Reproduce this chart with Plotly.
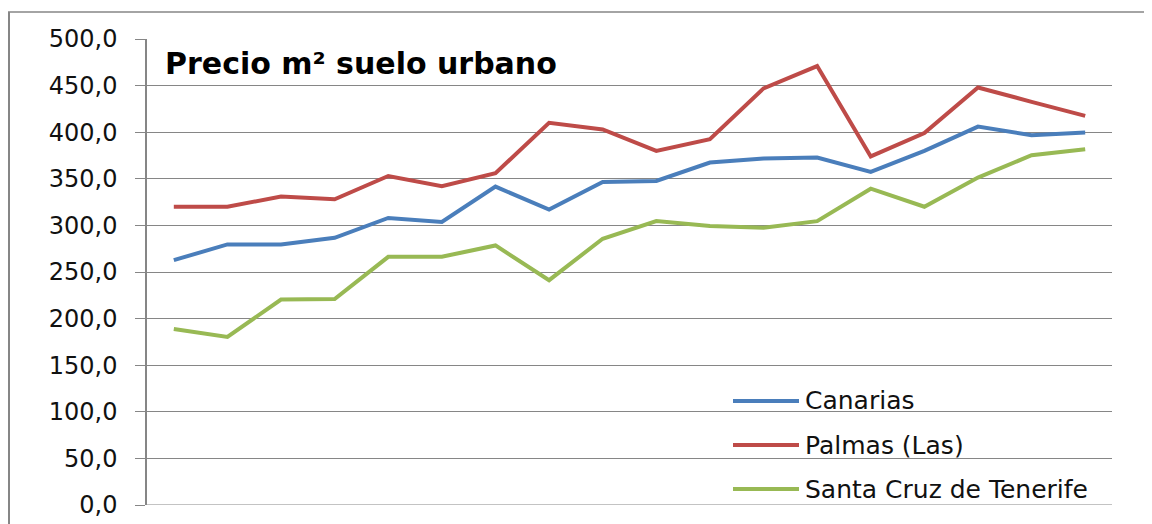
import plotly.graph_objects as go

categories = [str(i) for i in range(1, 19)]
canarias = [262.7, 279.6, 279.6, 286.7, 308.0, 303.6, 341.6, 317.0, 346.6, 347.7,
            367.4, 371.7, 372.8, 357.4, 380.0, 406.0, 396.8, 399.7]
palmas = [320.0, 320.0, 331.0, 328.0, 353.0, 342.0, 356.0, 410.0, 403.0, 380.0,
          392.5, 447.0, 471.0, 374.0, 399.0, 448.0, 432.6, 417.5]
tenerife = [188.9, 180.3, 220.4, 221.0, 266.3, 266.3, 278.5, 241.2, 285.7, 304.6,
            299.3, 297.5, 304.6, 339.4, 320.0, 351.3, 375.3, 381.7]
series_names = ["Canarias", "Palmas (Las)", "Santa Cruz de Tenerife"]
series_values = [canarias, palmas, tenerife]
colors = ["#4a7ebb", "#be4b48", "#98b954"]
y_ticks = [0, 50, 100, 150, 200, 250, 300, 350, 400, 450, 500]
title_text = "Precio m² suelo urbano"

# page body has an 8px margin; the figure is placed at (8, 8)
OFF = 8
W, H = 1152 - OFF, 524 - OFF
ml, mr, mt, mb = 147 - OFF, 40, 39 - OFF, 19
pw, ph = W - ml - mr, H - mt - mb

fig = go.Figure()
for name, vals, col in zip(series_names, series_values, colors):
    fig.add_trace(go.Scatter(x=categories, y=vals, mode="lines", name=name,
                             line=dict(color=col, width=4), showlegend=False))

grid = "#868686"
fig.update_layout(
    width=W, height=H, margin=dict(l=ml, r=mr, t=mt, b=mb, autoexpand=False),
    paper_bgcolor="white", plot_bgcolor="white",
    separators=",.",
    font=dict(family="DejaVu Sans", color="black"),
    xaxis=dict(type="category", range=[-0.5, 17.5], showticklabels=False,
               showgrid=False, zeroline=False, showline=False, ticks="",
               automargin=False),
    yaxis=dict(range=[0, 500], tickvals=y_ticks, tickformat=".1f",
               showgrid=True, gridcolor=grid, gridwidth=1, zeroline=False,
               showline=True, linecolor=grid, linewidth=1.5,
               ticks="outside", ticklen=10, tickcolor=grid, tickwidth=1,
               ticklabelstandoff=13, automargin=False,
               tickfont=dict(size=24, family="DejaVu Sans", color="#111")),
)

# bottom gridline (0) across plot
fig.add_shape(type="line", xref="paper", yref="y", x0=0, x1=1, y0=0, y1=0,
              line=dict(color=grid, width=1))

# pixel (window coords) -> paper coords
def px_x(p):
    return (p - OFF - ml) / pw
def px_y(p):
    return (H - mb - (p - OFF)) / ph

# outer chart frame
fig.add_shape(type="line", xref="paper", yref="paper", x0=px_x(9), x1=px_x(9),
              y0=px_y(12), y1=px_y(530), line=dict(color=grid, width=2))
fig.add_shape(type="line", xref="paper", yref="paper", x0=px_x(8), x1=px_x(1160),
              y0=px_y(12), y1=px_y(12), line=dict(color=grid, width=1.5))

# title
fig.add_annotation(text="<b>" + title_text + "</b>", xref="paper", yref="paper",
                   x=px_x(163), y=px_y(63), xanchor="left", yanchor="middle",
                   showarrow=False, font=dict(size=30, family="DejaVu Sans", color="black"))

# legend (custom, inside plot)
leg_y = [401, 445, 489]
for name, col, ly in zip(series_names, colors, leg_y):
    fig.add_shape(type="line", xref="paper", yref="paper", x0=px_x(733), x1=px_x(799),
                  y0=px_y(ly), y1=px_y(ly), line=dict(color=col, width=4))
    fig.add_annotation(text=name, xref="paper", yref="paper", x=px_x(803), y=px_y(ly),
                       xanchor="left", yanchor="middle", showarrow=False,
                       font=dict(size=25, family="DejaVu Sans", color="#111"))

fig.write_html("out.html")
